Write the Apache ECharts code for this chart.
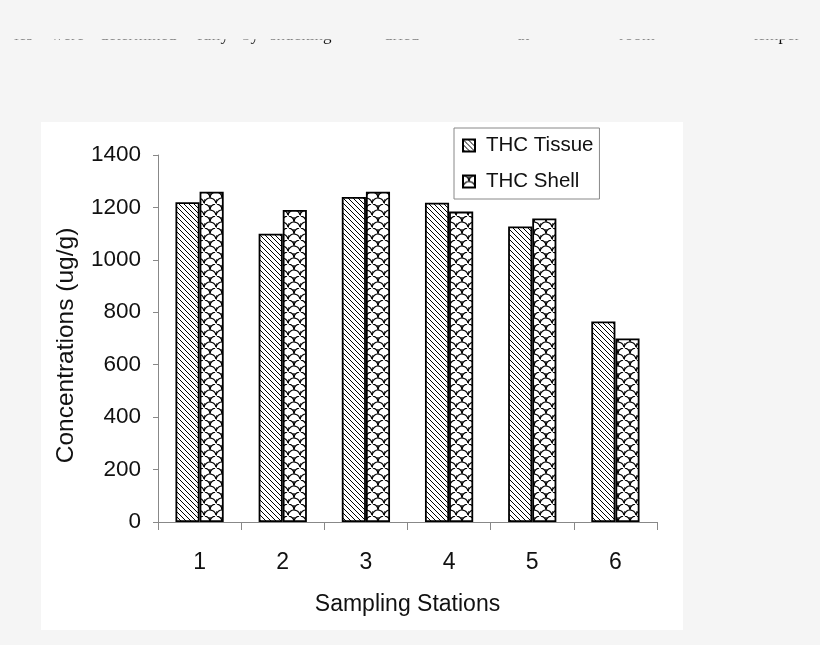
<!DOCTYPE html>
<html>
<head>
<meta charset="utf-8">
<script src="https://cdn.jsdelivr.net/npm/echarts@6/dist/echarts.min.js"></script>
<style>
html,body{margin:0;padding:0;background:#f5f5f5;}
#chart{width:820px;height:645px;}
</style>
</head>
<body>
<div id="chart"></div>
<script>
// ---- data ----
const categories = ['1', '2', '3', '4', '5', '6'];
const tissueValues = [1220, 1100, 1240, 1218, 1127, 765];
const shellValues = [1260, 1190, 1260, 1184, 1158, 700];
const seriesNames = ['THC Tissue', 'THC Shell'];
const yAxisMin = 0, yAxisMax = 1400, yAxisStep = 200;
const xAxisTitle = 'Sampling Stations';
const yAxisTitle = 'Concentrations (ug/g)';
const headerWords = ['ies', 'were', 'determined', 'fully', 'by', 'shucking', 'dried', 'at', 'room', 'temper'];
const headerWordX = [14, 51, 100, 197, 242, 270, 384, 517, 619, 753];

// ---- fill patterns ----
function hatchPattern() {
  const s = 5, c = document.createElement('canvas');
  c.width = s; c.height = s;
  const g = c.getContext('2d');
  g.fillStyle = '#fff'; g.fillRect(0, 0, s, s);
  g.strokeStyle = '#000'; g.lineWidth = 1;
  g.beginPath();
  g.moveTo(-1, -1); g.lineTo(s + 1, s + 1);
  g.moveTo(-1, s - 1); g.lineTo(1, s + 1);
  g.moveTo(s - 1, -1); g.lineTo(s + 1, 1);
  g.stroke();
  return c;
}
function scalePattern() {
  const w = 12, h = 12, r = 6, c = document.createElement('canvas');
  c.width = w; c.height = h;
  const g = c.getContext('2d');
  g.fillStyle = '#fff'; g.fillRect(0, 0, w, h);
  g.strokeStyle = '#000'; g.lineWidth = 1.2;
  g.beginPath(); g.arc(6, 12, r, Math.PI * 1.05, Math.PI * 1.95); g.stroke();
  g.beginPath(); g.arc(0, 6, r, Math.PI * 1.55, Math.PI * 1.95); g.stroke();
  g.beginPath(); g.arc(12, 6, r, Math.PI * 1.05, Math.PI * 1.45); g.stroke();
  g.beginPath(); g.moveTo(0, 7); g.lineTo(0, 12); g.moveTo(6, 1); g.lineTo(6, 6); g.stroke();
  return c;
}

const chart = echarts.init(document.getElementById('chart'), null, {renderer: 'canvas'});

const headerGraphics = [];
headerWords.forEach((w, i) => {
  headerGraphics.push({
    type: 'text', left: headerWordX[i], top: 27, z: 1,
    style: {text: w, font: '17px "Liberation Serif", "Times New Roman", serif', fill: '#111'}
  });
});
headerGraphics.push({type: 'rect', shape: {x: 0, y: 0, width: 820, height: 39.5}, style: {fill: '#f5f5f5'}, z: 2});
headerGraphics.push({type: 'rect', shape: {x: 41, y: 122, width: 642, height: 508}, style: {fill: '#ffffff'}, z: -10});

const option = {
  backgroundColor: '#f5f5f5',
  animation: false,
  textStyle: {fontFamily: '"Liberation Sans", Arial, sans-serif'},
  graphic: headerGraphics,
  grid: {left: 158, right: 163, top: 155, bottom: 123, containLabel: false},
  legend: {
    orient: 'vertical', left: 454, top: 128,
    data: seriesNames,
    icon: 'rect', itemWidth: 12, itemHeight: 12, itemGap: 15,
    padding: [7, 6, 7, 8],
    backgroundColor: '#fff', borderColor: '#888', borderWidth: 1,
    textStyle: {fontSize: 20.5, color: '#111', padding: [0, 0, 0, 6], fontFamily: '"Liberation Sans", Arial, sans-serif'}
  },
  xAxis: {
    type: 'category', data: categories,
    name: xAxisTitle, nameLocation: 'middle', nameGap: 71,
    nameTextStyle: {fontSize: 23, color: '#111'},
    axisLine: {lineStyle: {color: '#888', width: 1}},
    axisTick: {show: true, length: 8, lineStyle: {color: '#888'}},
    axisLabel: {fontSize: 23, color: '#111', margin: 29}
  },
  yAxis: {
    type: 'value', min: yAxisMin, max: yAxisMax, interval: yAxisStep,
    name: yAxisTitle, nameLocation: 'middle', nameGap: 79, nameRotate: 90,
    nameTextStyle: {fontSize: 24.5, color: '#111', padding: [0, 14, 0, 0]},
    axisLine: {show: true, lineStyle: {color: '#888', width: 1}},
    axisTick: {show: true, length: 5, lineStyle: {color: '#888'}},
    axisLabel: {fontSize: 22.5, color: '#111', margin: 17, formatter: v => String(v)},
    splitLine: {show: false}
  },
  series: [
    {
      name: seriesNames[0], type: 'bar', data: tissueValues,
      barGap: '0%', barCategoryGap: '42%',
      itemStyle: {color: {image: hatchPattern(), repeat: 'repeat'}, borderColor: '#000', borderWidth: 1.8}
    },
    {
      name: seriesNames[1], type: 'bar', data: shellValues,
      barGap: '0%', barCategoryGap: '42%',
      itemStyle: {color: {image: scalePattern(), repeat: 'repeat'}, borderColor: '#000', borderWidth: 1.8}
    }
  ]
};
chart.setOption(option);
</script>
</body>
</html>
